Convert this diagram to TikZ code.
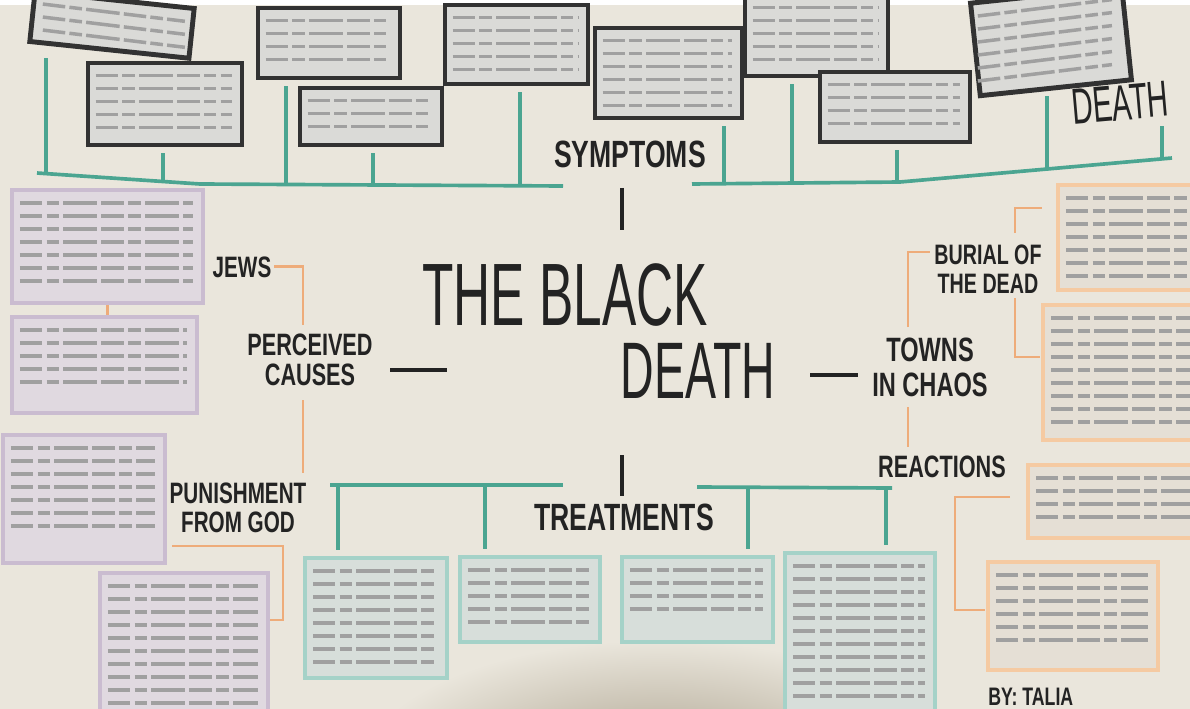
\documentclass[tikz,border=0pt]{standalone}
\usepackage{fontspec}
\setmainfont{Liberation Sans}
\newfontfamily\handfont[FakeStretch=0.7]{Liberation Sans}
\newfontfamily\titlefont[FakeStretch=0.58]{Liberation Sans}
\usetikzlibrary{fit,calc}

\definecolor{bdPaper}{RGB}{234,230,220}
\definecolor{bdShadow}{RGB}{170,160,140}
\definecolor{bdInk}{RGB}{35,35,35}
\definecolor{bdDark}{RGB}{50,50,50}
\definecolor{bdGrey}{RGB}{218,218,215}
\definecolor{bdLilac}{RGB}{202,188,208}
\definecolor{bdLilacFill}{RGB}{224,217,224}
\definecolor{bdMint}{RGB}{165,210,200}
\definecolor{bdMintFill}{RGB}{215,222,218}
\definecolor{bdPeach}{RGB}{245,202,162}
\definecolor{bdPeachFill}{RGB}{229,223,213}
\definecolor{bdTealCol}{RGB}{75,165,145}
\definecolor{bdOrangeCol}{RGB}{238,172,122}
\definecolor{bdRowCol}{RGB}{160,160,160}

% grey rows standing for the unreadable hand writing in a box
\newcommand\bdRows[2]{%
  \foreach \k in {1,...,#2}
    \draw[bdRow] ($(#1.north west)+(10,{2+13*\k})$) -- ($(#1.north east)+(-12,{2+13*\k})$);
}

\begin{document}
\begin{tikzpicture}[
    x=0.025cm, y=-0.025cm,
    bdSymBox/.style={draw=bdDark, line width=3.5pt, fill=bdGrey, inner sep=0pt},
    bdCauseBox/.style={draw=bdLilac, line width=3pt, fill=bdLilacFill, inner sep=0pt},
    bdTreatBox/.style={draw=bdMint, line width=3pt, fill=bdMintFill, inner sep=0pt},
    bdChaosBox/.style={draw=bdPeach, line width=3pt, fill=bdPeachFill, inner sep=0pt},
    bdRow/.style={bdRowCol, line width=2.5pt, dash pattern=on 16pt off 3pt on 9pt off 3pt on 24pt off 3pt},
    bdTeal/.style={draw=bdTealCol, line width=2.6pt},
    bdDrop/.style={bdTeal, shorten >=4pt},
    bdOrange/.style={draw=bdOrangeCol, line width=2pt},
    bdTick/.style={draw=bdInk, line width=3pt},
    bdLabel/.style 2 args={text=bdInk, inner sep=0pt, align=center,
        font=\handfont\bfseries\fontsize{#1}{#2}\selectfont},
    bdTitle/.style={text=bdInk, inner sep=0pt,
        font=\titlefont\fontsize{#1}{#1}\selectfont}
]
    \useasboundingbox (0,0) rectangle (1190,709);
    \clip (0,0) rectangle (1190,709);

    % paper
    \fill[bdPaper] (0,0) rectangle (1190,709);
    \fill[white] (0,0) rectangle (1190,5);
    \shade[inner color=bdShadow, outer color=bdPaper] (660,770) ellipse (300 and 130);

    % symptoms
    \node[bdSymBox, rotate=-6, fit={(32,0) (192,50)}] (s1) {};
    \node[bdSymBox, fit={(88,63) (242,145)}] (s2) {};
    \node[bdSymBox, fit={(258,8) (400,78)}] (s3) {};
    \node[bdSymBox, fit={(300,88) (442,145)}] (s4) {};
    \node[bdSymBox, fit={(445,5) (588,84)}] (s5) {};
    \node[bdSymBox, fit={(595,28) (742,118)}] (s6) {};
    \node[bdSymBox, fit={(745,-5) (888,76)}] (s7) {};
    \node[bdSymBox, fit={(820,72) (970,142)}] (s8) {};
    \node[bdSymBox, rotate=6, fit={(975,-5) (1127,88)}] (s9) {};
    \bdRows{s1}{3} \bdRows{s2}{5} \bdRows{s3}{4}
    \bdRows{s4}{3} \bdRows{s5}{5} \bdRows{s6}{6}
    \bdRows{s7}{5} \bdRows{s8}{4} \bdRows{s9}{6}

    % perceived causes
    \node[bdCauseBox, fit={(12,190) (203,303)}] (l1) {};
    \node[bdCauseBox, fit={(12,317) (197,413)}] (l2) {};
    \node[bdCauseBox, fit={(3,435) (165,563)}] (l3) {};
    \node[bdCauseBox, fit={(100,573) (268,720)}] (l4) {};
    \bdRows{l1}{7} \bdRows{l2}{5} \bdRows{l3}{7} \bdRows{l4}{10}

    % treatments
    \node[bdTreatBox, fit={(305,558) (447,678)}] (t1) {};
    \node[bdTreatBox, fit={(460,557) (600,642)}] (t2) {};
    \node[bdTreatBox, fit={(622,557) (773,642)}] (t3) {};
    \node[bdTreatBox, fit={(785,553) (935,720)}] (t4) {};
    \bdRows{t1}{8} \bdRows{t2}{5} \bdRows{t3}{4} \bdRows{t4}{11}

    % towns in chaos
    \node[bdChaosBox, fit={(1058,185) (1200,290)}] (r1) {};
    \node[bdChaosBox, fit={(1043,305) (1200,440)}] (r2) {};
    \node[bdChaosBox, fit={(1028,465) (1200,538)}] (r3) {};
    \node[bdChaosBox, fit={(988,562) (1158,670)}] (r4) {};
    \bdRows{r1}{7} \bdRows{r2}{9} \bdRows{r3}{4} \bdRows{r4}{6}

    % labels
    \node[bdTitle=63, anchor=base] (titleA) at (565,325) {THE BLACK};
    \node[bdTitle=57, anchor=base] (titleB) at (698,398) {DEATH};
    \node[bdTitle=36, rotate=5] (deathTag) at (1120,103) {DEATH};
    \node[bdLabel={27}{27}, anchor=base] (symptoms) at (630,167) {SYMPTOMS};
    \node[bdLabel={27}{27}, anchor=base] (treatments) at (624,530) {TREATMENTS};
    \node[bdLabel={21}{21}, anchor=base] (jews) at (242,277) {JEWS};
    \node[bdLabel={22}{21}] (causes) at (310,360) {PERCEIVED\\CAUSES};
    \node[bdLabel={21}{21}] (punish) at (238,508) {PUNISHMENT\\FROM GOD};
    \node[bdLabel={24}{25}] (towns) at (930,367) {TOWNS\\IN CHAOS};
    \node[bdLabel={20}{21}] (burial) at (988,269) {BURIAL OF\\THE DEAD};
    \node[bdLabel={22}{22}, anchor=base] (reactions) at (942,477) {REACTIONS};
    \node[bdLabel={18}{18}, anchor=base west] (byline) at (988,705) {BY: TALIA};

    % symptoms bar
    \coordinate (symL) at (37,173);
    \coordinate (symLmid) at (200,184);
    \coordinate (symLend) at (563,186);
    \coordinate (symR) at (692,184);
    \coordinate (symRmid) at (900,182);
    \coordinate (symRend) at (1172,158);
    \draw[bdTeal] (symL) -- (symLmid) -- (symLend);
    \draw[bdTeal] (symR) -- (symRmid) -- (symRend);
    \coordinate (d1) at (46,174);
    \coordinate (d2) at (163,182);
    \coordinate (d3) at (286,185);
    \coordinate (d4) at (373,185.5);
    \coordinate (d5) at (520,186);
    \coordinate (d6) at (724,183.7);
    \coordinate (d7) at (792,183);
    \coordinate (d8) at (897,182);
    \coordinate (d9) at (1047,169);
    \coordinate (d10) at (1162,159);
    \draw[bdDrop] (d1) -- (d1 |- s1.south);
    \draw[bdDrop] (d2) -- (d2 |- s2.south);
    \draw[bdDrop] (d3) -- (d3 |- s3.south);
    \draw[bdDrop] (d4) -- (d4 |- s4.south);
    \draw[bdDrop] (d5) -- (d5 |- s5.south);
    \draw[bdDrop] (d6) -- (d6 |- s6.south);
    \draw[bdDrop] (d7) -- (d7 |- s7.south);
    \draw[bdDrop] (d8) -- (d8 |- s8.south);
    \draw[bdDrop] (d9) -- (d9 |- s9.south);
    \draw[bdDrop] (d10) -- (d10 |- deathTag.south);

    % treatments bar
    \coordinate (trL) at (330,485);
    \coordinate (trLend) at (563,485);
    \coordinate (trR) at (697,487);
    \coordinate (trRend) at (892,488);
    \draw[bdTeal] (trL) -- (trLend);
    \draw[bdTeal] (trR) -- (trRend);
    \coordinate (e1) at (338,485);
    \coordinate (e2) at (485,485);
    \coordinate (e3) at (748,487);
    \coordinate (e4) at (886,488);
    \draw[bdDrop] (e1) -- (e1 |- t1.north);
    \draw[bdDrop] (e2) -- (e2 |- t2.north);
    \draw[bdDrop] (e3) -- (e3 |- t3.north);
    \draw[bdDrop] (e4) -- (e4 |- t4.north);

    % ticks round the title
    \coordinate (k1a) at (622,188);
    \coordinate (k1b) at (622,230);
    \coordinate (k2a) at (622,455);
    \coordinate (k2b) at (622,496);
    \coordinate (dashLa) at (390,370);
    \coordinate (dashLb) at (447,370);
    \coordinate (dashRa) at (810,375);
    \coordinate (dashRb) at (858,375);
    \draw[bdTick] (k1a) -- (k1b);
    \draw[bdTick] (k2a) -- (k2b);
    \draw[bdTick, line width=3.5pt] (dashLa) -- (dashLb);
    \draw[bdTick, line width=3.5pt] (dashRa) -- (dashRb);

    % causes brackets
    \coordinate (cTop) at (303,325);
    \coordinate (cBot) at (303,400);
    \coordinate (cPun) at (303,473);
    \coordinate (pA) at (172,546);
    \coordinate (pB) at (283,620);
    \coordinate (pC) at (270,620);
    \draw[bdOrange, shorten <=2pt] (jews.east) -| (cTop);
    \draw[bdOrange] (cBot) -- (cPun);
    \draw[bdOrange] (pA) -| (pB) -- (pC);
    \draw[bdOrange] (l1.south) -- (l1.south |- l2.north);

    % chaos brackets
    \coordinate (tUp) at (908,327);
    \coordinate (tBur) at (930,252);
    \coordinate (tDn) at (908,407);
    \coordinate (tRe) at (908,447);
    \coordinate (bTop) at (1015,233);
    \coordinate (bR1) at (1042,208);
    \coordinate (bBot) at (1015,298);
    \coordinate (bR2) at (1040,357);
    \coordinate (rTop) at (1010,497);
    \coordinate (rCorner) at (955,610);
    \coordinate (rBot) at (985,610);
    \draw[bdOrange] (tUp) |- (tBur);
    \draw[bdOrange] (tDn) -- (tRe);
    \draw[bdOrange] (bTop) |- (bR1);
    \draw[bdOrange] (bBot) |- (bR2);
    \draw[bdOrange] (rTop) -| (rCorner) -- (rBot);
\end{tikzpicture}
\end{document}
